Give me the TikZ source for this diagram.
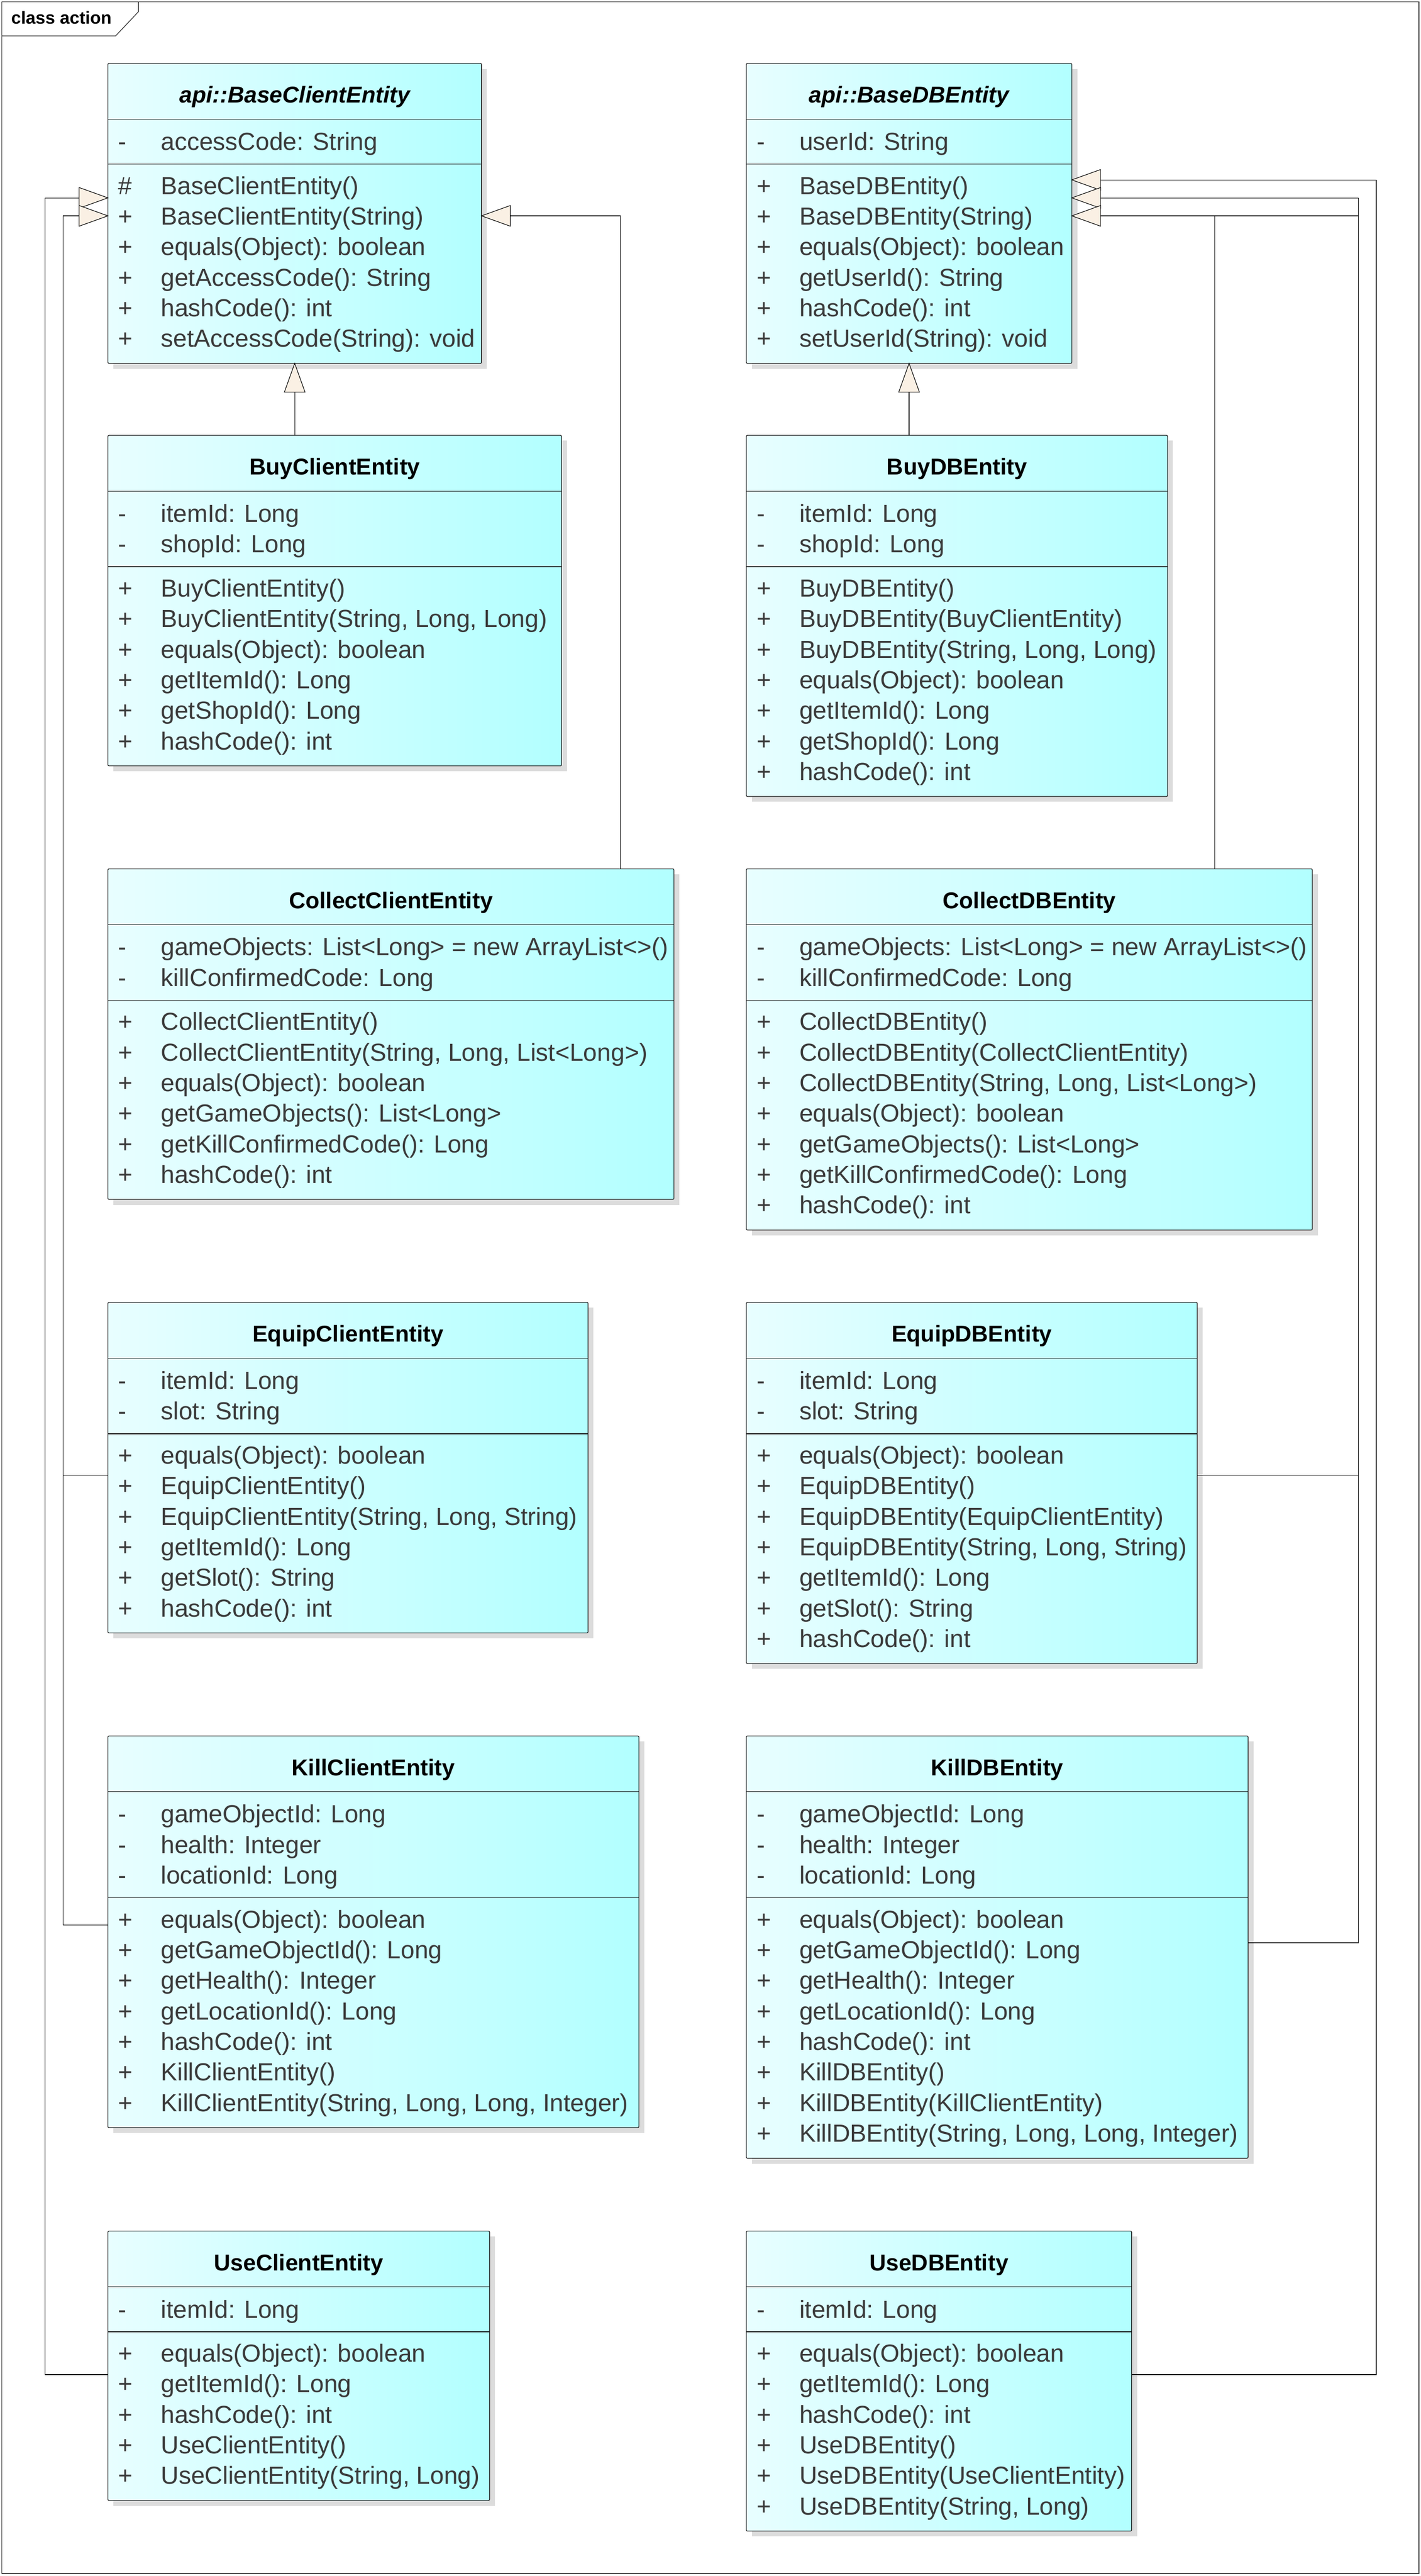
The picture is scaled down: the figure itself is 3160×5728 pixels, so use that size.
\documentclass[tikz,border=0pt]{standalone}
\usepackage{fontspec}
\setmainfont{Liberation Sans}
\usetikzlibrary{calc}
\definecolor{cL}{HTML}{E8FEFF}
\definecolor{cR}{HTML}{B2FFFF}
\definecolor{memc}{HTML}{3A3A3A}
\definecolor{triC}{HTML}{FAF0E4}
\definecolor{shadowC}{HTML}{DCDCDC}
\tikzset{
  classbox/.style={rectangle, draw=black!90, line width=0.3pt, rounded corners=0.5pt, left color=cL, right color=cR, inner sep=0pt, outer sep=0pt},
  sepline/.style={draw=black!90, line width=0.3pt},
  member/.style={inner sep=0pt, text=memc, font=\fontsize{11pt}{13pt}\selectfont},
  ctitle/.style={inner sep=0pt, text=black, font=\fontsize{10.2pt}{12pt}\selectfont\bfseries},
  conn/.style={draw=black, line width=0.26pt},
  tri/.style={draw=black, fill=triC, line width=0.26pt, line join=miter},
  framebox/.style={draw=black!80, line width=0.3pt, inner sep=0pt, outer sep=0pt, rectangle},
}
% #1 name, #2 x, #3 y, #4 w, #5 attr count, #6 method count, #7 title, #8 attrs, #9 methods
\newcommand\umlclass[9]{%
  \pgfmathsetmacro\hA{32+68*#5}%
  \pgfmathsetmacro\hT{191+68*(#5+#6)}%
  \pgfmathsetmacro\wPt{#4*0.2}%
  \pgfmathsetmacro\hPt{\hT*0.2}%
  \fill[shadowC] (#2+12,#3+12) rectangle ++(#4,\hT);
  \node[classbox, minimum width=\wPt pt, minimum height=\hPt pt, anchor=north west] (#1) at (#2,#3) {};
  \draw[sepline] ($(#1.north west)+(0,124)$) -- ($(#1.north east)+(0,124)$);
  \draw[sepline] ($(#1.north west)+(0,124+\hA)$) -- ($(#1.north east)+(0,124+\hA)$);
  \node[ctitle, anchor=base] (#1-t) at ($(#1.north)+(0,88)$) {#7};
  \foreach \v/\t [count=\i] in {#8} {
    \node[member, anchor=base west] (#1-av\i) at ($(#1.north west)+(22,125+68*\i)$) {\v};
    \node[member, anchor=base west] (#1-a\i) at ($(#1.north west)+(117,125+68*\i)$) {\t};
  }
  \foreach \v/\t [count=\i] in {#9} {
    \node[member, anchor=base west] (#1-mv\i) at ($(#1.north west)+(22,123+\hA+68*\i)$) {\v};
    \node[member, anchor=base west] (#1-m\i) at ($(#1.north west)+(117,123+\hA+68*\i)$) {\t};
  }
}
\newcommand\trileft[1]{\filldraw[tri] (#1) -- ++(64,-23) -- ++(0,46) -- cycle;}
\newcommand\triright[1]{\filldraw[tri] (#1) -- ++(-64,-23) -- ++(0,46) -- cycle;}
\newcommand\triup[1]{\filldraw[tri] (#1) -- ++(-23,64) -- ++(46,0) -- cycle;}

\begin{document}
\begin{tikzpicture}[x=0.2pt, y=-0.2pt]
\useasboundingbox (0,0) rectangle (3160,5728);
\fill[white] (0,0) rectangle (3160,5728);
\node[framebox, minimum width=630.4pt, minimum height=1143.6pt, anchor=north west] (frame) at (4,4) {};
\draw[draw=black!80, line width=0.3pt] ($(frame.north west)+(0,76)$) -- ++(253,0) -- ++(51,-54) -- ++(0,-22);
\node[anchor=base west, inner sep=0pt, font=\fontsize{7.8pt}{9pt}\selectfont\bfseries] (lbl) at (24,53) {class action};

% ---------- left column ----------
\umlclass{BC}{240}{141}{831}{1}{6}{\itshape api::BaseClientEntity}
  {-/accessCode: String}
  {\#/BaseClientEntity(), +/BaseClientEntity(String), +/equals(Object): boolean, +/getAccessCode(): String, +/hashCode(): int, +/setAccessCode(String): void}

\umlclass{BuyC}{240}{968}{1009}{2}{6}{BuyClientEntity}
  {-/itemId: Long, -/shopId: Long}
  {+/BuyClientEntity(), +/{BuyClientEntity(String, Long, Long)}, +/equals(Object): boolean, +/getItemId(): Long, +/getShopId(): Long, +/hashCode(): int}

\umlclass{ColC}{240}{1932}{1259}{2}{6}{CollectClientEntity}
  {-/gameObjects: List<Long> = new ArrayList<>(), -/killConfirmedCode: Long}
  {+/CollectClientEntity(), +/{CollectClientEntity(String, Long, List<Long>)}, +/equals(Object): boolean, +/getGameObjects(): List<Long>, +/getKillConfirmedCode(): Long, +/hashCode(): int}

\umlclass{EqC}{240}{2896}{1068}{2}{6}{EquipClientEntity}
  {-/itemId: Long, -/slot: String}
  {+/equals(Object): boolean, +/EquipClientEntity(), +/{EquipClientEntity(String, Long, String)}, +/getItemId(): Long, +/getSlot(): String, +/hashCode(): int}

\umlclass{KC}{240}{3860}{1181}{3}{7}{KillClientEntity}
  {-/gameObjectId: Long, -/health: Integer, -/locationId: Long}
  {+/equals(Object): boolean, +/getGameObjectId(): Long, +/getHealth(): Integer, +/getLocationId(): Long, +/hashCode(): int, +/KillClientEntity(), +/{KillClientEntity(String, Long, Long, Integer)}}

\umlclass{UC}{240}{4961}{849}{1}{5}{UseClientEntity}
  {-/itemId: Long}
  {+/equals(Object): boolean, +/getItemId(): Long, +/hashCode(): int, +/UseClientEntity(), +/{UseClientEntity(String, Long)}}

% ---------- right column ----------
\umlclass{BD}{1660}{141}{724}{1}{6}{\itshape api::BaseDBEntity}
  {-/userId: String}
  {+/BaseDBEntity(), +/BaseDBEntity(String), +/equals(Object): boolean, +/getUserId(): String, +/hashCode(): int, +/setUserId(String): void}

\umlclass{BuyD}{1660}{968}{937}{2}{7}{BuyDBEntity}
  {-/itemId: Long, -/shopId: Long}
  {+/BuyDBEntity(), +/BuyDBEntity(BuyClientEntity), +/{BuyDBEntity(String, Long, Long)}, +/equals(Object): boolean, +/getItemId(): Long, +/getShopId(): Long, +/hashCode(): int}

\umlclass{ColD}{1660}{1932}{1259}{2}{7}{CollectDBEntity}
  {-/gameObjects: List<Long> = new ArrayList<>(), -/killConfirmedCode: Long}
  {+/CollectDBEntity(), +/CollectDBEntity(CollectClientEntity), +/{CollectDBEntity(String, Long, List<Long>)}, +/equals(Object): boolean, +/getGameObjects(): List<Long>, +/getKillConfirmedCode(): Long, +/hashCode(): int}

\umlclass{EqD}{1660}{2896}{1003}{2}{7}{EquipDBEntity}
  {-/itemId: Long, -/slot: String}
  {+/equals(Object): boolean, +/EquipDBEntity(), +/EquipDBEntity(EquipClientEntity), +/{EquipDBEntity(String, Long, String)}, +/getItemId(): Long, +/getSlot(): String, +/hashCode(): int}

\umlclass{KD}{1660}{3860}{1116}{3}{8}{KillDBEntity}
  {-/gameObjectId: Long, -/health: Integer, -/locationId: Long}
  {+/equals(Object): boolean, +/getGameObjectId(): Long, +/getHealth(): Integer, +/getLocationId(): Long, +/hashCode(): int, +/KillDBEntity(), +/KillDBEntity(KillClientEntity), +/{KillDBEntity(String, Long, Long, Integer)}}

\umlclass{UD}{1660}{4961}{857}{1}{6}{UseDBEntity}
  {-/itemId: Long}
  {+/equals(Object): boolean, +/getItemId(): Long, +/hashCode(): int, +/UseDBEntity(), +/UseDBEntity(UseClientEntity), +/{UseDBEntity(String, Long)}}

% ---------- arrow tips ----------
\coordinate (L1) at ($(BC.north west)+(0,299)$);
\coordinate (L2) at ($(BC.north west)+(0,339)$);
\coordinate (R1) at ($(BC.north east)+(0,339)$);
\coordinate (D1) at ($(BD.north east)+(0,259)$);
\coordinate (D2) at ($(BD.north east)+(0,299)$);
\coordinate (D3) at ($(BD.north east)+(0,339)$);

% ---------- connectors to BaseClientEntity ----------
\draw[conn] ($(UC.north west)+(0,319)$) -| ($(L1)+(-140,0)$) -- ($(L1)+(-64,0)$);
\draw[conn] ($(EqC.north west)+(0,384)$) -| ($(L2)+(-100,0)$) -- ($(L2)+(-64,0)$);
\draw[conn] ($(KC.north west)+(0,420)$) -| ($(L2)+(-100,0)$);
\draw[conn] ($(ColC.north west)+(1140,0)$) |- ($(R1)+(64,0)$);
\draw[conn] (BuyC.north -| BC.south) -- ($(BC.south)+(0,64)$);
\triright{L1}
\triright{L2}
\trileft{R1}
\triup{BC.south}

% ---------- connectors to BaseDBEntity ----------
\draw[conn] ($(UD.north east)+(0,319)$) -| ($(D1)+(677,0)$) -- ($(D1)+(64,0)$);
\draw[conn] ($(KD.north east)+(0,460)$) -| ($(D2)+(637,0)$) -- ($(D2)+(64,0)$);
\draw[conn] ($(EqD.north east)+(0,384)$) -| ($(D3)+(637,0)$) -- ($(D3)+(64,0)$);
\draw[conn] ($(ColD.north west)+(1042,0)$) |- ($(D3)+(64,0)$);
\draw[conn] (BuyD.north -| BD.south) -- ($(BD.south)+(0,64)$);
\trileft{D1}
\trileft{D2}
\trileft{D3}
\triup{BD.south}
\end{tikzpicture}
\end{document}
